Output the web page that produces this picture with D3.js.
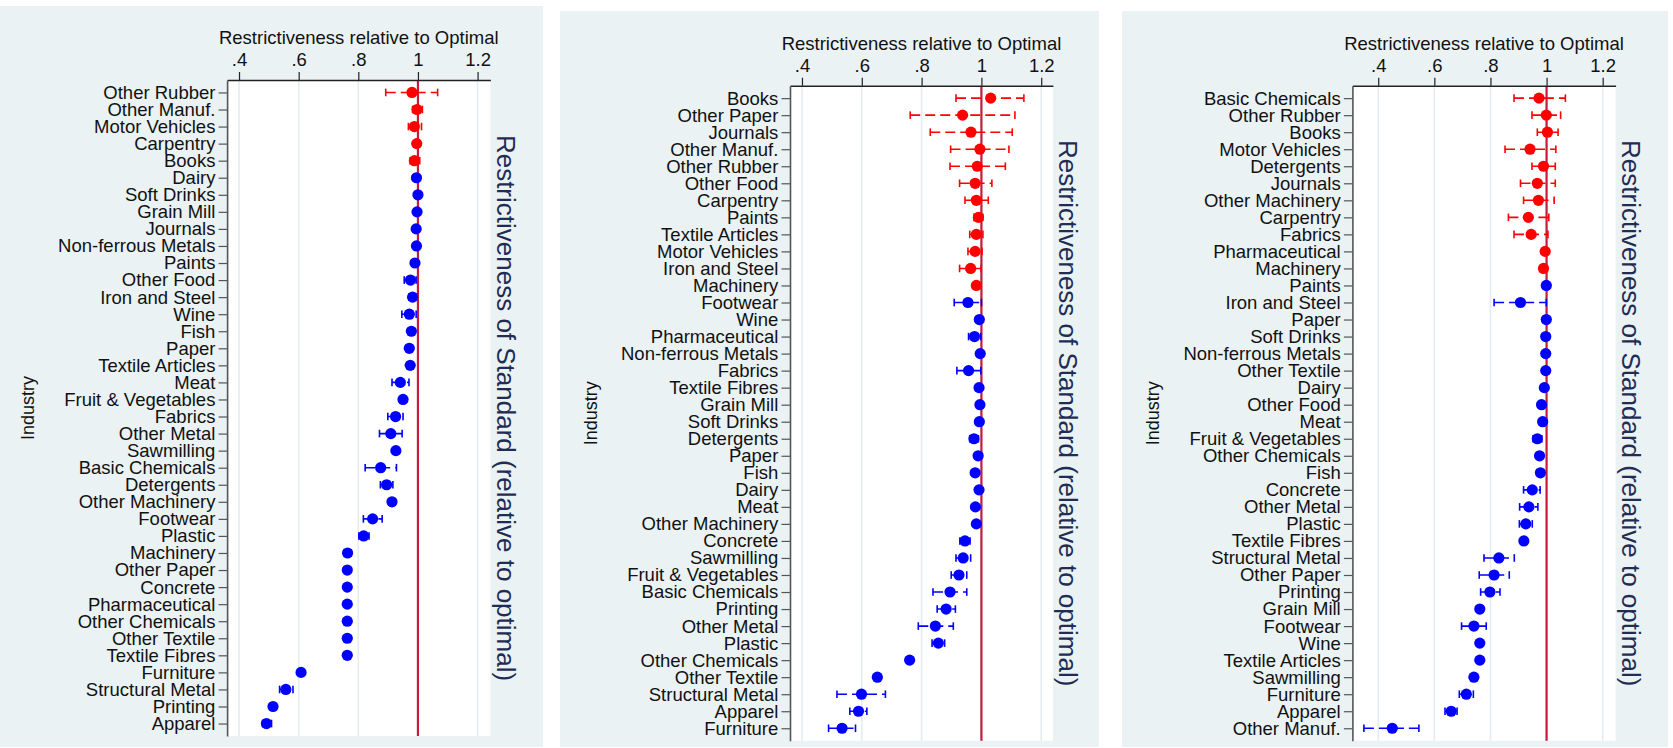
<!DOCTYPE html>
<html>
<head>
<meta charset="utf-8">
<script src="https://cdn.jsdelivr.net/npm/d3@7"></script>
<style>
  html, body { margin: 0; padding: 0; background: #ffffff; }
  svg { display: block; font-family: "Liberation Sans", Arial, Helvetica, sans-serif; }
</style>
</head>
<body>
<svg id="chart" width="1673" height="748"></svg>
<script>
// ---- Shared axis ticks ----
const xTickValues = [0.4, 0.6, 0.8, 1, 1.2];
const xTickLabels = [".4", ".6", ".8", "1", "1.2"];
const xTitle = "Restrictiveness relative to Optimal";
const yTitle = "Industry";
const rightTitle = "Restrictiveness of Standard (relative to optimal)";

// ---- Panel 1 ----
const industries1 = ["Other Rubber","Other Manuf.","Motor Vehicles","Carpentry","Books","Dairy","Soft Drinks","Grain Mill","Journals","Non-ferrous Metals","Paints","Other Food","Iron and Steel","Wine","Fish","Paper","Textile Articles","Meat","Fruit & Vegetables","Fabrics","Other Metal","Sawmilling","Basic Chemicals","Detergents","Other Machinery","Footwear","Plastic","Machinery","Other Paper","Concrete","Pharmaceutical","Other Chemicals","Other Textile","Textile Fibres","Furniture","Structural Metal","Printing","Apparel"];
const estimate1 = [0.980,0.997,0.988,0.996,0.988,0.995,1.000,0.997,0.994,0.995,0.990,0.975,0.982,0.971,0.978,0.971,0.974,0.941,0.950,0.925,0.909,0.926,0.875,0.895,0.913,0.848,0.818,0.764,0.763,0.763,0.763,0.763,0.763,0.763,0.608,0.557,0.514,0.492];
const lower1 = [0.892,0.982,0.968,0.988,0.974,0.995,1.000,0.997,0.994,0.995,0.990,0.954,0.970,0.946,0.978,0.971,0.974,0.913,0.950,0.899,0.871,0.926,0.823,0.874,0.913,0.817,0.802,0.752,0.763,0.763,0.763,0.763,0.763,0.763,0.608,0.536,0.514,0.479];
const upper1 = [1.066,1.015,1.012,1.005,1.006,0.995,1.000,0.997,0.994,0.995,0.990,0.994,0.994,0.994,0.978,0.971,0.974,0.970,0.950,0.950,0.947,0.926,0.928,0.916,0.913,0.880,0.836,0.776,0.763,0.763,0.763,0.763,0.763,0.763,0.608,0.581,0.514,0.509];
const redCount1 = 5;

// ---- Panel 2 ----
const industries2 = ["Books","Other Paper","Journals","Other Manuf.","Other Rubber","Other Food","Carpentry","Paints","Textile Articles","Motor Vehicles","Iron and Steel","Machinery","Footwear","Wine","Pharmaceutical","Non-ferrous Metals","Fabrics","Textile Fibres","Grain Mill","Soft Drinks","Detergents","Paper","Fish","Dairy","Meat","Other Machinery","Concrete","Sawmilling","Fruit & Vegetables","Basic Chemicals","Printing","Other Metal","Plastic","Other Chemicals","Other Textile","Structural Metal","Apparel","Furniture"];
const estimate2 = [1.031,0.937,0.965,0.995,0.986,0.979,0.983,0.990,0.983,0.979,0.964,0.983,0.955,0.993,0.977,0.996,0.957,0.992,0.995,0.993,0.975,0.989,0.979,0.992,0.980,0.983,0.945,0.939,0.925,0.895,0.882,0.846,0.856,0.760,0.652,0.599,0.589,0.534];
const lower2 = [0.915,0.762,0.829,0.897,0.895,0.927,0.945,0.975,0.961,0.955,0.927,0.975,0.909,0.993,0.957,0.996,0.918,0.992,0.995,0.993,0.961,0.989,0.979,0.992,0.980,0.983,0.928,0.915,0.899,0.838,0.852,0.789,0.835,0.760,0.652,0.517,0.560,0.489];
const upper2 = [1.142,1.112,1.103,1.092,1.080,1.035,1.023,1.005,1.005,1.002,0.999,0.992,1.000,0.993,0.998,0.996,0.998,0.992,0.995,0.993,0.990,0.989,0.979,0.992,0.980,0.983,0.962,0.964,0.951,0.951,0.913,0.906,0.877,0.760,0.652,0.679,0.617,0.579];
const redCount2 = 12;

// ---- Panel 3 ----
const industries3 = ["Basic Chemicals","Other Rubber","Books","Motor Vehicles","Detergents","Journals","Other Machinery","Carpentry","Fabrics","Pharmaceutical","Machinery","Paints","Iron and Steel","Paper","Soft Drinks","Non-ferrous Metals","Other Textile","Dairy","Other Food","Meat","Fruit & Vegetables","Other Chemicals","Fish","Concrete","Other Metal","Plastic","Textile Fibres","Structural Metal","Other Paper","Printing","Grain Mill","Footwear","Wine","Textile Articles","Sawmilling","Furniture","Apparel","Other Manuf."];
const estimate3 = [0.973,0.999,1.003,0.941,0.989,0.967,0.971,0.935,0.945,0.995,0.989,0.999,0.907,0.999,0.997,0.997,0.997,0.992,0.982,0.986,0.967,0.975,0.978,0.949,0.937,0.926,0.919,0.830,0.813,0.798,0.762,0.741,0.762,0.762,0.741,0.714,0.660,0.450];
const lower3 = [0.884,0.948,0.967,0.852,0.948,0.907,0.918,0.864,0.884,0.995,0.989,0.999,0.813,0.999,0.997,0.997,0.997,0.992,0.982,0.986,0.952,0.975,0.978,0.918,0.904,0.903,0.919,0.777,0.760,0.765,0.762,0.697,0.762,0.762,0.741,0.689,0.638,0.349];
const upper3 = [1.067,1.050,1.041,1.033,1.031,1.031,1.027,1.008,1.005,0.995,0.989,0.999,0.999,0.999,0.997,0.997,0.997,0.992,0.982,0.986,0.983,0.975,0.978,0.977,0.969,0.949,0.919,0.885,0.867,0.834,0.762,0.785,0.762,0.762,0.741,0.739,0.681,0.545];
const redCount3 = 11;

// ---- Styling ----
const BG = "#eaf2f3";
const GRID = "#e4ecef";
const RED = "#ff0000";
const BLUE = "#0000ff";
const REFLINE = "#c41c3c";
const NAVY = "#1f2d55";
const FONT = 18.5;

const svg = d3.select("#chart");

function drawPanel(p) {
  const g = svg.append("g");
  const plotW = p.plot.w, plotH = p.plot.h;

  // panel background and white plot region
  g.append("rect").attr("x", p.bg.x).attr("y", p.bg.y).attr("width", p.bg.w).attr("height", p.bg.h).attr("fill", BG);
  const plot = g.append("g").attr("transform", `translate(${p.plot.x},${p.plot.y})`);
  plot.append("rect").attr("width", plotW).attr("height", plotH).attr("fill", "#ffffff");

  const x = d3.scaleLinear().domain(p.domain).range([0, plotW]);
  const y = d3.scalePoint().domain(p.cats).range([0, plotH]).padding(0.73);

  // vertical grid lines
  plot.selectAll("line.grid").data(xTickValues).join("line")
    .attr("class", "grid")
    .attr("x1", d => x(d)).attr("x2", d => x(d))
    .attr("y1", 0).attr("y2", plotH)
    .attr("stroke", GRID).attr("stroke-width", 1.6);

  // reference line at 1 (optimal)
  plot.append("line")
    .attr("x1", x(1)).attr("x2", x(1)).attr("y1", 0).attr("y2", plotH)
    .attr("stroke", REFLINE).attr("stroke-width", 2.2);

  const rows = p.cats.map((c, i) => ({
    cat: c, est: p.est[i], lo: p.lo[i], hi: p.hi[i],
    color: i < p.redCount ? RED : BLUE
  }));
  const withCI = rows.filter(r => r.hi - r.lo > 0.0005);

  // confidence intervals: dashed span with solid caps
  plot.selectAll("line.ci").data(withCI).join("line")
    .attr("class", "ci")
    .attr("x1", d => x(d.lo)).attr("x2", d => x(d.hi))
    .attr("y1", d => y(d.cat)).attr("y2", d => y(d.cat))
    .attr("stroke", d => d.color).attr("stroke-width", 1.6)
    .attr("stroke-dasharray", "10,5");
  ["lo", "hi"].forEach(k => {
    plot.selectAll("line.cap-" + k).data(withCI).join("line")
      .attr("class", "cap-" + k)
      .attr("x1", d => x(d[k])).attr("x2", d => x(d[k]))
      .attr("y1", d => y(d.cat) - 3.8).attr("y2", d => y(d.cat) + 3.8)
      .attr("stroke", d => d.color).attr("stroke-width", 1.6);
  });

  // point estimates
  plot.selectAll("circle.pt").data(rows).join("circle")
    .attr("class", "pt")
    .attr("cx", d => x(d.est)).attr("cy", d => y(d.cat))
    .attr("r", 5.6).attr("fill", d => d.color);

  // top x axis
  const xAxis = d3.axisTop(x).tickValues(xTickValues)
    .tickFormat((d, i) => xTickLabels[i]).tickSize(8).tickSizeOuter(0).tickPadding(6);
  const gx = plot.append("g").call(xAxis);
  gx.select(".domain").attr("stroke", "#222").attr("stroke-width", 1.5);
  gx.selectAll(".tick line").attr("stroke", "#222").attr("stroke-width", 1.2);
  gx.selectAll(".tick text").attr("font-size", FONT).attr("fill", "#111").attr("font-family", null);

  // left y axis with industry names
  const yAxis = d3.axisLeft(y).tickSize(8.5).tickSizeOuter(0).tickPadding(3.2);
  const gy = plot.append("g").call(yAxis);
  gy.select(".domain").attr("stroke", "#555").attr("stroke-width", 1.6);
  gy.selectAll(".tick line").attr("stroke", "#555").attr("stroke-width", 1.2);
  gy.selectAll(".tick text").attr("font-size", FONT).attr("fill", "#111").attr("font-family", null);

  // axis titles
  plot.append("text")
    .attr("x", plotW / 2).attr("y", -36)
    .attr("text-anchor", "middle").attr("font-size", FONT).attr("fill", "#111")
    .text(xTitle);
  plot.append("text")
    .attr("transform", `translate(-199,${plotH / 2}) rotate(-90)`)
    .attr("text-anchor", "middle").attr("dominant-baseline", "central")
    .attr("font-size", 18).attr("fill", "#111")
    .text(yTitle);
  plot.append("text")
    .attr("transform", `translate(${plotW + 6.5},${plotH / 2}) rotate(90)`)
    .attr("text-anchor", "middle")
    .attr("font-size", 26).attr("fill", NAVY)
    .text(rightTitle);
}

drawPanel({
  bg: { x: 0, y: 6, w: 543, h: 741 },
  plot: { x: 227.1, y: 80, w: 263.3, h: 656 },
  domain: [0.360, 1.243],
  cats: industries1, est: estimate1, lo: lower1, hi: upper1, redCount: redCount1
});
drawPanel({
  bg: { x: 560, y: 11, w: 539, h: 736 },
  plot: { x: 790, y: 85.7, w: 262.9, h: 655 },
  domain: [0.360, 1.239],
  cats: industries2, est: estimate2, lo: lower2, hi: upper2, redCount: redCount2
});
drawPanel({
  bg: { x: 1122, y: 11, w: 546, h: 736 },
  plot: { x: 1352.4, y: 85.7, w: 263.2, h: 655 },
  domain: [0.308, 1.246],
  cats: industries3, est: estimate3, lo: lower3, hi: upper3, redCount: redCount3
});
</script>
</body>
</html>
